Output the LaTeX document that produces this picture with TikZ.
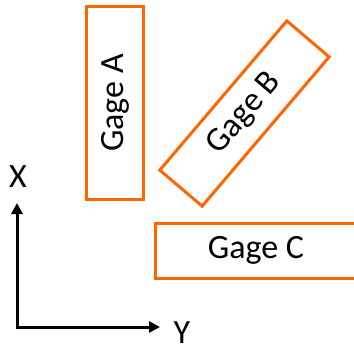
\documentclass[tikz,border=0pt]{standalone}
\usepackage{fontspec}
\setmainfont{Carlito}
\usetikzlibrary{arrows.meta}
\definecolor{gageorange}{RGB}{255,102,0}
\tikzset{
  gage/.style={draw=gageorange, line width=3pt, inner sep=0pt, font=\fontsize{34}{40}\selectfont},
  axis/.style={line width=3pt, -{Triangle[length=11pt,width=11pt]}},
  axislabel/.style={inner sep=0pt, font=\fontsize{34}{40}\selectfont}
}
\begin{document}
\begin{tikzpicture}[x=1pt, y=-1pt]
  \useasboundingbox (0,0) rectangle (354,349);
  \clip (0,0) rectangle (354,349);
  % strain gages
  \node[gage, rotate=90, minimum width=193.5pt, minimum height=57pt] (ga) at (115,103) {Gage A};
  \node[gage, rotate=49.6, minimum width=196pt, minimum height=55.6pt] (gb) at (244.5,113.5) {Gage B};
  \node[gage, minimum width=202pt, minimum height=55pt] (gc) at (256,250.5) {Gage C};
  % axes
  \coordinate (o) at (17,327);
  \coordinate (xt) at (17,203);
  \coordinate (yt) at (160,327);
  \draw[axis] (o) -- (xt);
  \draw[axis] ([xshift=-1.5pt]o) -- (yt);
  \node[axislabel] (xl) at (18,177) {X};
  \node[axislabel] (yl) at (182,333) {Y};
\end{tikzpicture}
\end{document}
